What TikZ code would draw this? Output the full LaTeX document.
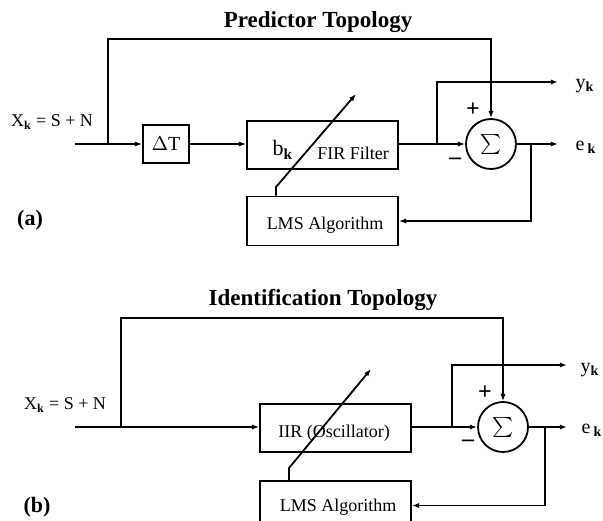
\documentclass[tikz,border=0pt]{standalone}
\usepackage{fontspec}
\setmainfont{Liberation Serif}
\usetikzlibrary{arrows.meta}

\begin{document}
\begin{tikzpicture}[x=0.5pt,y=-0.5pt,
  wire/.style={line width=0.9pt},
  arr/.style={wire,-{Latex[length=3.6pt,width=2.6pt]}},
  blk/.style={draw,line width=0.9pt,minimum width=75.5pt,minimum height=24pt,inner sep=0pt},
  dtbox/.style={draw,line width=0.9pt,minimum width=23pt,minimum height=19pt,inner sep=0pt,font=\fontsize{10}{11}\selectfont},
  sumnode/.style={circle,draw,line width=0.9pt,minimum size=25pt,inner sep=0pt},
  ttl/.style={font=\fontsize{11.5}{13}\selectfont\bfseries},
  txt/.style={font=\fontsize{9}{10}\selectfont,inner sep=0pt},
  sgn/.style={font=\fontsize{12}{12}\selectfont\bfseries,inner sep=0pt},
  tag/.style={font=\fontsize{11}{12}\selectfont\bfseries,inner sep=0pt}]
\clip (0,0) rectangle (603,520);

% ---------------- (a) predictor ----------------
\node[ttl] (titleA) at (318,22) {Predictor Topology};
\node[txt] (xA) at (52,122) {X\textsubscript{\bfseries k} = S + N};
\node[tag] (tagA) at (30,220) {(a)};

\coordinate (inA) at (75,144);
\coordinate (brA) at (108,144);
\coordinate (topA) at (108,39);
\node[dtbox] (dT) at (166,144) {$\Delta$T};
\node[blk] (fir) at (322.5,145) {};
\node[txt,font=\fontsize{11}{12}\selectfont] (bk) at (283,150) {b\textsubscript{\bfseries k}};
\node[txt] (firtxt) at (353,153) {FIR Filter};
\node[blk,minimum height=24.5pt] (lmsA) at (322.5,221) {};
\node[txt] (lmsAtxt) at (325,225) {LMS Algorithm};
\node[sumnode] (sigA) at (491,144) {\fontsize{11.5}{12}\selectfont$\sum$};
\node[sgn] (plusA) at (473,110) {+};
\node[sgn] (minusA) at (455,161) {\textendash};

\coordinate (brYA) at (437,144);
\coordinate (yA) at (558,82);
\coordinate (brEA) at (531,144);
\coordinate (eA) at (558,144);
\node[txt,font=\fontsize{10}{11}\selectfont] (ykA) at (585,86) {y\textsubscript{\bfseries k}};
\node[txt,font=\fontsize{10}{11}\selectfont] (ekA) at (586,147) {e\,\textsubscript{\bfseries k}};

\draw[wire] (inA) -- (brA);
\draw[arr] (brA) -- (dT.west);
\draw[arr] (brA) -- (topA) -| (sigA.north);
\draw[arr] (dT.east) -- (dT.east -| fir.west);
\draw[arr,line width=1.3pt] (fir.east |- sigA) -- (sigA.west);
\draw[arr] (brYA) |- (yA);
\draw[arr] (sigA.east) -- (eA);
\draw[arr] (brEA) |- (lmsA.east);
\coordinate (dA1) at (276,187);
\coordinate (dA2) at (356,94);
\draw[arr] (lmsA.north -| dA1) -- (dA1) -- (dA2);

% ---------------- (b) identification ----------------
\node[ttl] (titleB) at (323,300) {Identification Topology};
\node[txt] (xB) at (65,405) {X\textsubscript{\bfseries k} = S + N};
\node[tag] (tagB) at (37,507) {(b)};

\coordinate (inB) at (75,427);
\coordinate (brB) at (121,427);
\coordinate (topB) at (121,318);
\node[blk] (iir) at (335.5,428) {};
\node[txt] (iirtxt) at (334,433) {IIR (Oscillator)};
\node[blk,minimum height=24.5pt] (lmsB) at (335.5,505.5) {};
\node[txt] (lmsBtxt) at (338,507) {LMS Algorithm};
\node[sumnode] (sigB) at (503,427) {\fontsize{11.5}{12}\selectfont$\sum$};
\node[sgn] (plusB) at (485,393) {+};
\node[sgn] (minusB) at (468,443) {\textendash};

\coordinate (brYB) at (452,427);
\coordinate (yB) at (567,365);
\coordinate (brEB) at (545,427);
\coordinate (eB) at (567,427);
\node[txt,font=\fontsize{10}{11}\selectfont] (ykB) at (590,370) {y\textsubscript{\bfseries k}};
\node[txt,font=\fontsize{10}{11}\selectfont] (ekB) at (592,430) {e\,\textsubscript{\bfseries k}};

\draw[wire,line width=1.3pt] (inB) -- (brB);
\draw[arr] (brB) -- (iir.west |- brB);
\draw[arr] (brB) -- (topB) -| (sigB.north);
\draw[arr,line width=1.3pt] (iir.east |- sigB) -- (sigB.west);
\draw[arr] (brYB) |- (yB);
\draw[arr] (sigB.east) -- (eB);
\draw[arr] (brEB) |- (lmsB.east);
\coordinate (dB1) at (289,468);
\coordinate (dB2) at (371,369);
\draw[arr] (lmsB.north -| dB1) -- (dB1) -- (dB2);
\end{tikzpicture}
\end{document}
